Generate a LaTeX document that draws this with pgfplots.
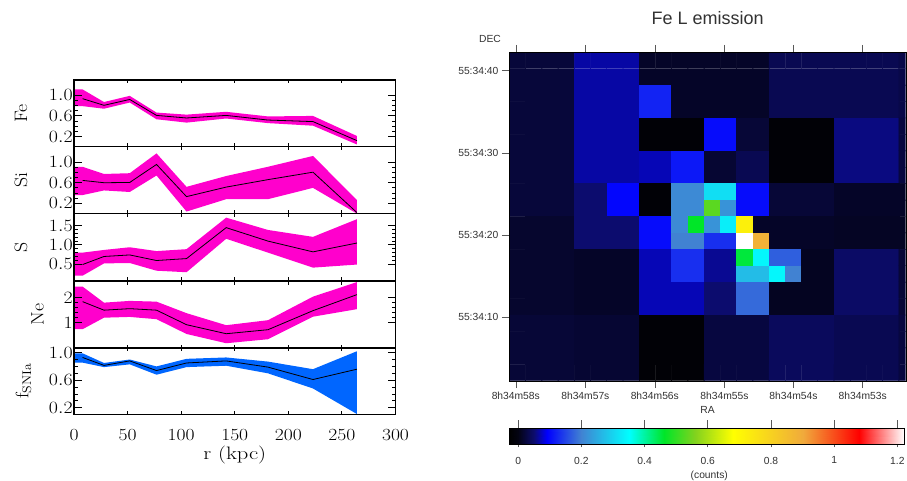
\documentclass[border=0pt]{standalone}
\usepackage{fontspec}
\usepackage{pgfplots}
\usepackage{pgfplotstable}
\pgfplotsset{compat=1.18}
\usepgfplotslibrary{fillbetween}
\newfontfamily\mapfont{Liberation Sans}

\definecolor{bandpink}{RGB}{255,0,204}
\definecolor{bandblue}{RGB}{0,102,255}
\definecolor{maptext}{RGB}{50,50,50}

% abundance profiles: first row only starts the band at r=0
\pgfplotstableread{
r line up lo
0 nan 1.115 0.79
8 0.935 1.115 0.79
28 0.806 0.87 0.74
52 0.92 0.99 0.86
77 0.61 0.665 0.535
105 0.56 0.625 0.47
142 0.61 0.68 0.55
181 0.52 0.59 0.46
223 0.49 0.60 0.41
264 0.12 0.21 0.045
}\fedata
\pgfplotstableread{
r line up lo
0 nan 0.91 0.36
8 0.645 0.91 0.36
28 0.60 0.77 0.45
52 0.605 0.785 0.42
77 0.955 1.17 0.74
105 0.33 0.52 0.04
142 0.515 0.73 0.28
181 0.66 0.91 0.28
223 0.805 1.12 0.50
264 0.02 0.265 0.0
}\sidata
\pgfplotstableread{
r line up lo
0 nan 0.80 0.2
8 0.49 0.80 0.2
28 0.70 0.87 0.52
52 0.74 0.94 0.53
77 0.595 0.84 0.33
105 0.645 0.89 0.29
142 1.45 1.71 1.16
181 1.10 1.39 0.80
223 0.82 1.21 0.41
264 1.05 1.67 0.49
}\sdata
\pgfplotstableread{
r line up lo
0 nan 2.45 0.75
8 1.85 2.45 0.75
28 1.51 1.81 1.21
52 1.57 1.88 1.24
77 1.51 1.85 1.15
105 0.93 1.39 0.56
142 0.57 0.91 0.19
181 0.73 1.11 0.35
223 1.49 2.05 1.25
264 2.13 2.63 1.55
}\nedata
\pgfplotstableread{
r line up lo
0 nan 0.99 0.855
8 0.93 0.99 0.855
28 0.815 0.85 0.79
52 0.88 0.90 0.83
77 0.74 0.80 0.68
105 0.85 0.91 0.79
142 0.88 0.93 0.81
181 0.79 0.87 0.70
223 0.61 0.76 0.48
264 0.76 1.02 0.11
}\fdata

% Fe L map, half cells, left to right and top to bottom, 25 per row
\pgfplotstableread[row sep=\\]{z\\
0.022\\0.022\\0.022\\0.022\\0.065\\0.065\\0.065\\0.065\\0.012\\0.012\\0.012\\0.012\\0.012\\0.012\\0.012\\0.012\\0.035\\0.035\\0.035\\0.035\\0.035\\0.035\\0.035\\0.035\\0.03\\
0.022\\0.022\\0.022\\0.022\\0.065\\0.065\\0.065\\0.065\\0.012\\0.012\\0.012\\0.012\\0.012\\0.012\\0.012\\0.012\\0.035\\0.035\\0.035\\0.035\\0.035\\0.035\\0.035\\0.035\\0.03\\
0.022\\0.022\\0.022\\0.022\\0.065\\0.065\\0.065\\0.065\\0.12\\0.12\\0.012\\0.012\\0.012\\0.012\\0.012\\0.012\\0.035\\0.035\\0.035\\0.035\\0.035\\0.035\\0.035\\0.035\\0.03\\
0.022\\0.022\\0.022\\0.022\\0.065\\0.065\\0.065\\0.065\\0.12\\0.12\\0.012\\0.012\\0.012\\0.012\\0.012\\0.012\\0.035\\0.035\\0.035\\0.035\\0.035\\0.035\\0.035\\0.035\\0.03\\
0.022\\0.022\\0.022\\0.022\\0.065\\0.065\\0.065\\0.065\\-0.02\\-0.02\\-0.02\\-0.02\\0.10\\0.10\\0.02\\0.02\\-0.02\\-0.02\\-0.02\\-0.02\\0.055\\0.055\\0.055\\0.055\\0.025\\
0.022\\0.022\\0.022\\0.022\\0.065\\0.065\\0.065\\0.065\\-0.02\\-0.02\\-0.02\\-0.02\\0.10\\0.10\\0.02\\0.02\\-0.02\\-0.02\\-0.02\\-0.02\\0.055\\0.055\\0.055\\0.055\\0.025\\
0.022\\0.022\\0.022\\0.022\\0.065\\0.065\\0.065\\0.065\\0.07\\0.07\\0.11\\0.11\\0.018\\0.018\\0.035\\0.035\\-0.02\\-0.02\\-0.02\\-0.02\\0.055\\0.055\\0.055\\0.055\\0.025\\
0.022\\0.022\\0.022\\0.022\\0.065\\0.065\\0.065\\0.065\\0.07\\0.07\\0.11\\0.11\\0.018\\0.018\\0.035\\0.035\\-0.02\\-0.02\\-0.02\\-0.02\\0.055\\0.055\\0.055\\0.055\\0.025\\
0.022\\0.022\\0.022\\0.022\\0.05\\0.05\\0.095\\0.095\\-0.02\\-0.02\\0.21\\0.21\\0.31\\0.31\\0.10\\0.10\\0.02\\0.02\\0.02\\0.02\\0.012\\0.012\\0.012\\0.012\\0.012\\
0.022\\0.022\\0.022\\0.022\\0.05\\0.05\\0.095\\0.095\\-0.02\\-0.02\\0.21\\0.21\\0.53\\0.22\\0.10\\0.10\\0.02\\0.02\\0.02\\0.02\\0.012\\0.012\\0.012\\0.012\\0.012\\
0.015\\0.015\\0.015\\0.015\\0.05\\0.05\\0.05\\0.05\\0.10\\0.10\\0.21\\0.46\\0.22\\0.33\\0.72\\0.012\\0.012\\0.012\\0.012\\0.012\\0.01\\0.01\\0.01\\0.01\\0.01\\
0.015\\0.015\\0.015\\0.015\\0.05\\0.05\\0.05\\0.05\\0.10\\0.10\\0.20\\0.20\\0.13\\0.13\\1.22\\0.88\\0.012\\0.012\\0.012\\0.012\\0.01\\0.01\\0.01\\0.01\\0.01\\
0.015\\0.015\\0.015\\0.015\\0.012\\0.012\\0.012\\0.012\\0.07\\0.07\\0.13\\0.13\\0.06\\0.06\\0.45\\0.34\\0.17\\0.17\\0.008\\0.008\\0.045\\0.045\\0.045\\0.045\\0.02\\
0.015\\0.015\\0.015\\0.015\\0.012\\0.012\\0.012\\0.012\\0.07\\0.07\\0.13\\0.13\\0.06\\0.06\\0.27\\0.27\\0.34\\0.20\\0.008\\0.008\\0.045\\0.045\\0.045\\0.045\\0.02\\
0.015\\0.015\\0.015\\0.015\\0.012\\0.012\\0.012\\0.012\\0.07\\0.07\\0.07\\0.07\\0.05\\0.05\\0.18\\0.18\\0.008\\0.008\\0.008\\0.008\\0.045\\0.045\\0.045\\0.045\\0.02\\
0.015\\0.015\\0.015\\0.015\\0.012\\0.012\\0.012\\0.012\\0.07\\0.07\\0.07\\0.07\\0.05\\0.05\\0.18\\0.18\\0.008\\0.008\\0.008\\0.008\\0.045\\0.045\\0.045\\0.045\\0.02\\
0.02\\0.02\\0.02\\0.02\\0.018\\0.018\\0.018\\0.018\\-0.02\\-0.02\\-0.02\\-0.02\\0.025\\0.025\\0.025\\0.025\\0.04\\0.04\\0.04\\0.04\\0.035\\0.035\\0.035\\0.035\\0.025\\
0.02\\0.02\\0.02\\0.02\\0.018\\0.018\\0.018\\0.018\\-0.02\\-0.02\\-0.02\\-0.02\\0.025\\0.025\\0.025\\0.025\\0.04\\0.04\\0.04\\0.04\\0.035\\0.035\\0.035\\0.035\\0.025\\
0.02\\0.02\\0.02\\0.02\\0.018\\0.018\\0.018\\0.018\\-0.02\\-0.02\\-0.02\\-0.02\\0.025\\0.025\\0.025\\0.025\\0.04\\0.04\\0.04\\0.04\\0.035\\0.035\\0.035\\0.035\\0.025\\
0.02\\0.02\\0.02\\0.02\\0.018\\0.018\\0.018\\0.018\\-0.02\\-0.02\\-0.02\\-0.02\\0.025\\0.025\\0.025\\0.025\\0.04\\0.04\\0.04\\0.04\\0.035\\0.035\\0.035\\0.035\\0.025\\
}\femap

% colour scale, position = 100*value+3
\pgfplotsset{
  colormap={ds9}{
    rgb255(0pt)=(0,0,0);
    rgb255(3pt)=(3,3,18);
    rgb255(8pt)=(12,12,110);
    rgb255(12pt)=(0,0,255);
    rgb255(23pt)=(65,130,210);
    rgb255(38pt)=(0,255,255);
    rgb255(49pt)=(0,230,40);
    rgb255(59pt)=(130,210,30);
    rgb255(71pt)=(255,255,0);
    rgb255(93pt)=(240,170,60);
    rgb255(111pt)=(255,0,0);
    rgb255(125pt)=(255,255,255)
  },
  panel/.style={
    scale only axis,width=321.5pt,height=66.9pt,
    xmin=0,xmax=300,xtick={0,50,...,300},
    xticklabels={},
    axis on top,
    tick align=inside,tick style={black,line width=0.9pt},
    major tick length=7.5pt,minor tick length=3.5pt,
    xtick style={/pgfplots/major tick length=3.5pt},
    axis line style={line width=1.3pt},
    every y tick label/.append style={font=\fontsize{17}{17}\selectfont,xscale=1.15,inner xsep=1pt},
    ylabel style={font=\fontsize{18}{18}\selectfont,rotate=0,anchor=center,xscale=1.1},
  },
  sky/.style={
    scale only axis,
    /pgf/number format/assume math mode=true,
    tick label style={font=\mapfont\fontsize{10.3}{10.3}\selectfont,text=maptext},
    label style={font=\mapfont\fontsize{10.3}{10.3}\selectfont,text=maptext},
    tick align=outside,
    tick style={black!65,line width=0.6pt},
    major tick length=7.5pt,
  },
}

\newcommand{\profile}[2]{
  \addplot[draw=none,name path=bandup] table[x=r,y=up] {#1};
  \addplot[draw=none,name path=bandlo] table[x=r,y=lo] {#1};
  \addplot[#2,draw=none] fill between[of=bandup and bandlo];
  \addplot[black,line width=0.8pt] table[x=r,y=line] {#1};
}

\begin{document}
\begin{tikzpicture}

\begin{axis}[panel,at={(74pt,333.2pt)},anchor=south west,
  ymin=0,ymax=1.3,ytick={0.2,0.6,1.0},minor y tick num=3,
  y tick label style={/pgf/number format/fixed,/pgf/number format/fixed zerofill,/pgf/number format/precision=1},
  ylabel={Fe},ylabel style={at={(axis description cs:-0.165,0.5)}}]
\profile{\fedata}{bandpink}
\end{axis}

\begin{axis}[panel,at={(74pt,266.4pt)},anchor=south west,
  ymin=0,ymax=1.3,ytick={0.2,0.6,1.0},minor y tick num=3,
  y tick label style={/pgf/number format/fixed,/pgf/number format/fixed zerofill,/pgf/number format/precision=1},
  ylabel={Si},ylabel style={at={(axis description cs:-0.165,0.5)}}]
\profile{\sidata}{bandpink}
\end{axis}

\begin{axis}[panel,at={(74pt,199.3pt)},anchor=south west,
  ymin=0.07,ymax=1.81,ytick={0.5,1.0,1.5},minor y tick num=4,
  y tick label style={/pgf/number format/fixed,/pgf/number format/fixed zerofill,/pgf/number format/precision=1},
  ylabel={S},ylabel style={at={(axis description cs:-0.165,0.5)}}]
\profile{\sdata}{bandpink}
\end{axis}

\begin{axis}[panel,at={(74pt,132pt)},anchor=south west,
  ymin=0,ymax=2.67,ytick={1,2},minor y tick num=4,
  ylabel={Ne},ylabel style={at={(axis description cs:-0.113,0.5)}}]
\profile{\nedata}{bandpink}
\end{axis}

\begin{axis}[panel,at={(74pt,65.3pt)},anchor=south west,
  xticklabels={0,50,100,150,200,250,300},
  x tick label style={font=\fontsize{17}{17}\selectfont,xscale=1.15,yshift=-11pt},
  ymin=0.1,ymax=1.07,ytick={0.2,0.6,1.0},minor y tick num=3,
  y tick label style={/pgf/number format/fixed,/pgf/number format/fixed zerofill,/pgf/number format/precision=1},
  xlabel={r\ (kpc)},
  xlabel style={font=\fontsize{18}{18}\selectfont,xscale=1.25,at={(axis description cs:0.5,-0.6)},anchor=center},
  ylabel={f$_{\rm SNIa}$},ylabel style={at={(axis description cs:-0.157,0.5)}}]
\profile{\fdata}{bandblue}
\end{axis}

% Fe L image
\begin{axis}[sky,at={(509.4pt,99.3pt)},anchor=south west,width=396.3pt,height=328.4pt,
  xmin=-0.5,xmax=23.92,ymin=-0.5,ymax=19.5,y dir=reverse,
  colormap name=ds9,point meta min=-0.03,point meta max=1.22,
  axis line style={draw=black},
  xtick={-0.106,4.18,8.46,12.75,17.0,21.27},
  xticklabels={8h34m58s,8h34m57s,8h34m56s,8h34m55s,8h34m54s,8h34m53s},
  xtick pos=both,xticklabel pos=bottom,
  ytick={0.62,5.65,10.63,15.64},
  yticklabels={55:34:40,55:34:30,55:34:20,55:34:10},
  ytick pos=both,yticklabel pos=left,
  title={Fe L emission},
  title style={font=\mapfont\fontsize{18}{18}\selectfont,text=maptext,at={(axis description cs:0.5,1)},anchor=center,yshift=28.3pt},
  xlabel={RA},xlabel style={at={(axis description cs:0.5,-0.089)},anchor=center},
  ylabel={DEC},ylabel style={at={(axis description cs:-0.049,1.041)},anchor=center,rotate=-90}]
\addplot[matrix plot,mesh/cols=25,point meta=explicit]
  table[x index=0,y index=0,x expr={\coordindex-25*floor((\coordindex+0.5)/25)},y expr={floor((\coordindex+0.5)/25)},meta=z] {\femap};
\end{axis}

% colour bar, long ticks above and short ones below
\begin{axis}[sky,at={(509pt,35.7pt)},anchor=south west,width=395pt,height=16.6pt,
  xmin=-0.029,xmax=1.221,ymin=0,ymax=1,ytick=\empty,
  colormap name=ds9,point meta min=-0.03,point meta max=1.22,
  xtick={0,0.2,...,1.2},xticklabels={},xtick pos=upper,axis on top]
\addplot[surf,shader=interp,mesh/rows=2,point meta=x] coordinates {
  (-0.03,0) (0,0) (0.05,0) (0.09,0) (0.2,0) (0.35,0) (0.46,0) (0.56,0) (0.68,0) (0.9,0) (1.08,0) (1.22,0)
  (-0.03,1) (0,1) (0.05,1) (0.09,1) (0.2,1) (0.35,1) (0.46,1) (0.56,1) (0.68,1) (0.9,1) (1.08,1) (1.22,1)
};
\end{axis}
\begin{axis}[sky,at={(509pt,35.7pt)},anchor=south west,width=395pt,height=16.6pt,
  xmin=-0.029,xmax=1.221,ymin=0,ymax=1,ytick=\empty,
  major tick length=3pt,
  xtick={0,0.2,...,1.2},xticklabels={0,0.2,0.4,0.6,0.8,1,1.2},xtick pos=lower,
  x tick label style={yshift=-6pt},
  xlabel={(counts)},xlabel style={at={(axis description cs:0.507,-1.9)},anchor=center}]
\end{axis}
\pgfresetboundingbox
\path[use as bounding box] (0,0) rectangle (907pt,480pt);
\end{tikzpicture}
\end{document}
